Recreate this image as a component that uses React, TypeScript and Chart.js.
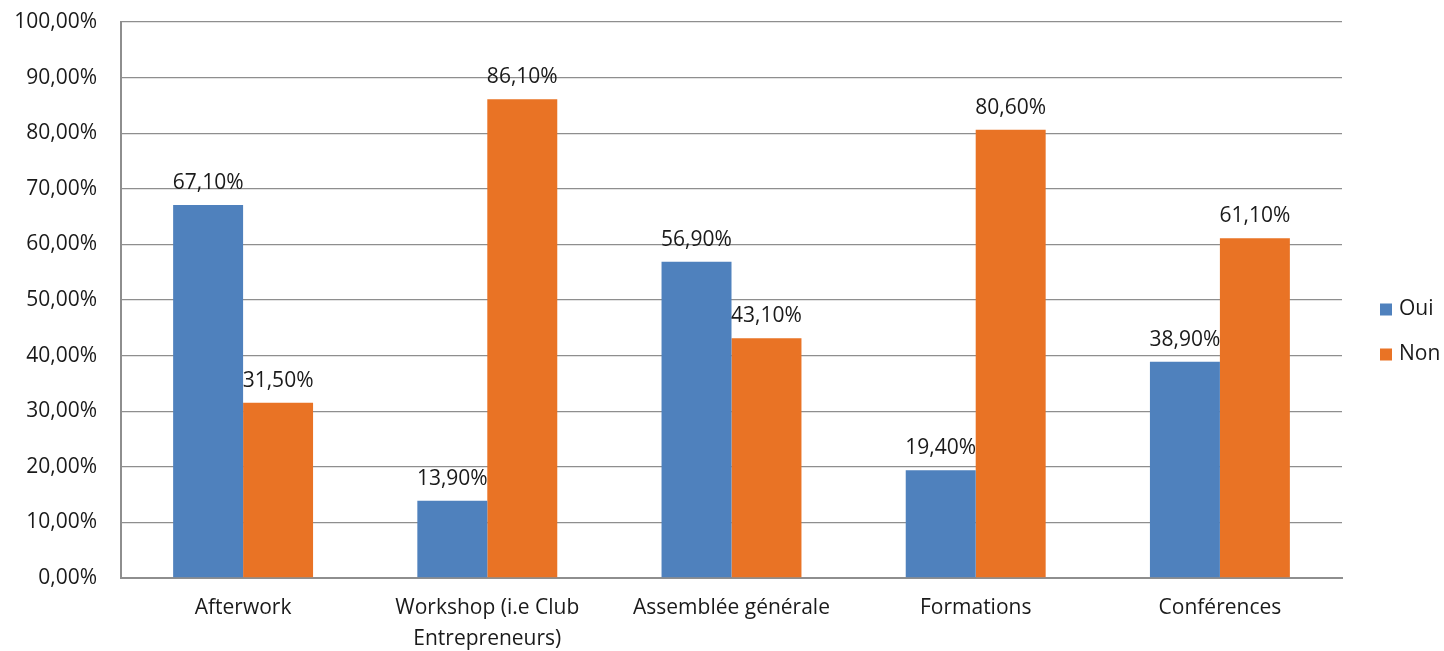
import React, { useEffect, useRef } from "react";
import { Chart, registerables } from "chart.js";

Chart.register(...registerables);

const categories: (string | string[])[] = [
  "Afterwork",
  ["Workshop (i.e Club", "Entrepreneurs)"],
  "Assemblée générale",
  "Formations",
  "Conférences",
];
const ouiValues = [67.1, 13.9, 56.9, 19.4, 38.9];
const nonValues = [31.5, 86.1, 43.1, 80.6, 61.1];
const seriesNames = ["Oui", "Non"];
const colors = ["#4F81BD", "#E97325"];

const FONT = "'Open Sans', sans-serif";
const FS = 21;
const TEXT = "#1a1a1a";
const fmt = (v: number) => v.toFixed(2).replace(".", ",") + "%";

const valueLabels = {
  id: "valueLabels",
  afterDatasetsDraw(chart: any) {
    const ctx = chart.ctx;
    ctx.save();
    ctx.font = `${FS}px ${FONT}`;
    ctx.fillStyle = TEXT;
    ctx.textAlign = "center";
    ctx.textBaseline = "alphabetic";
    chart.data.datasets.forEach((ds: any, i: number) => {
      const meta = chart.getDatasetMeta(i);
      meta.data.forEach((bar: any, j: number) => {
        ctx.fillText(fmt(ds.data[j]), bar.x, bar.y - 16);
      });
    });
    ctx.restore();
  },
};

const sideLegend = {
  id: "sideLegend",
  afterDraw(chart: any) {
    const ctx = chart.ctx;
    const x0 = chart.chartArea.right + 38;
    const yc = (chart.chartArea.top + chart.chartArea.bottom) / 2 + 32;
    const gap = 45;
    ctx.save();
    ctx.font = `${FS}px ${FONT}`;
    ctx.textAlign = "left";
    ctx.textBaseline = "middle";
    chart.data.datasets.forEach((ds: any, i: number) => {
      const y = yc - gap / 2 + i * gap;
      ctx.fillStyle = ds.backgroundColor;
      ctx.fillRect(x0, y - 6, 12, 12);
      ctx.fillStyle = TEXT;
      ctx.fillText(ds.label, x0 + 19, y);
    });
    ctx.restore();
  },
};

export default function App() {
  const ref = useRef<HTMLCanvasElement>(null);
  useEffect(() => {
    if (!ref.current) return;
    const chart = new Chart(ref.current, {
      type: "bar",
      data: {
        labels: categories as any,
        datasets: [
          { label: seriesNames[0], data: ouiValues, backgroundColor: colors[0] },
          { label: seriesNames[1], data: nonValues, backgroundColor: colors[1] },
        ],
      },
      options: {
        responsive: false,
        animation: false,
        layout: { padding: { top: 0, left: 0, right: 102, bottom: 0 } },
        datasets: {
          bar: { categoryPercentage: 0.573, barPercentage: 1 },
        } as any,
        plugins: {
          tooltip: { enabled: false },
          legend: { display: false },
        },
        scales: {
          x: {
            grid: { display: false, drawTicks: false },
            border: { display: true, color: "#8e8e8e", width: 2 },
            ticks: {
              padding: 15,
              color: TEXT,
              maxRotation: 0,
              autoSkip: false,
              font: { family: FONT, size: FS, lineHeight: 1.45 },
            },
            afterFit: (s: any) => {
              s.height = 73;
            },
          },
          y: {
            min: 0,
            max: 100,
            grid: { color: "#8e8e8e", lineWidth: 1.3, drawTicks: false },
            border: { display: true, color: "#8e8e8e", width: 2 },
            ticks: {
              stepSize: 10,
              padding: 24,
              color: TEXT,
              font: { family: FONT, size: FS },
              callback: (v: any) => fmt(Number(v)),
            },
            afterFit: (s: any) => {
              s.width = 121;
              s.paddingTop = 22;
              s.paddingBottom = 14;
            },
          },
        },
      },
      plugins: [valueLabels, sideLegend],
    });
    return () => chart.destroy();
  }, []);
  return (
    <div style={{ position: "fixed", left: 0, top: 0, width: 1444, height: 651, background: "#fff" }}>
      <canvas ref={ref} width={1444} height={651} />
    </div>
  );
}
